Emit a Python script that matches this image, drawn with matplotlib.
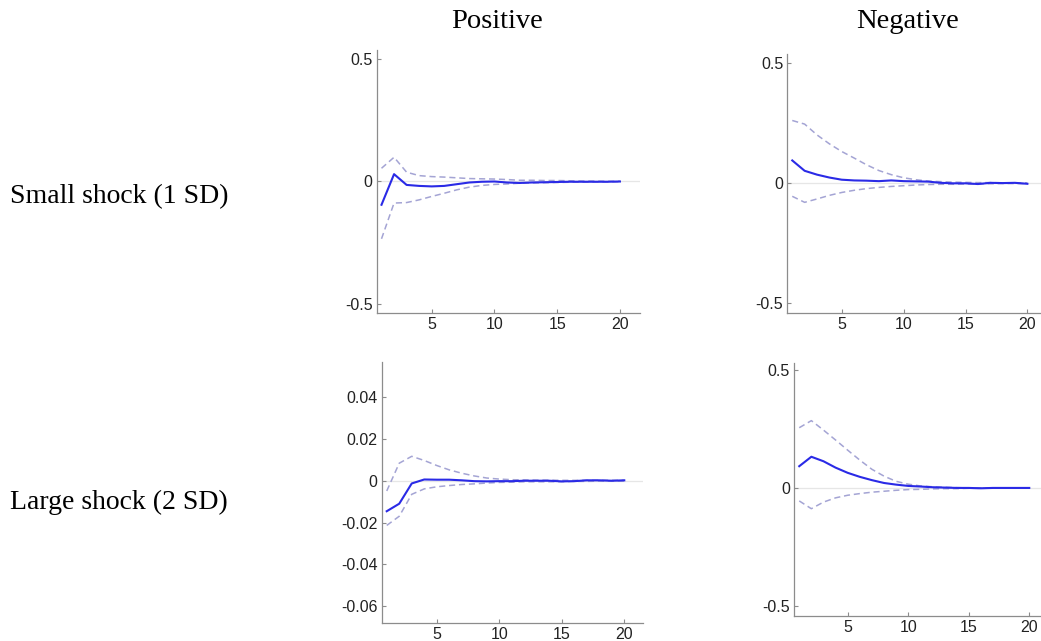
import numpy as np
import matplotlib.pyplot as plt

horizon = np.arange(1, 21)

# small shock, positive
sp_mid = [-0.095, 0.03, -0.014, -0.018, -0.02, -0.018, -0.011, -0.004, -0.001, 0.0,
          -0.004, -0.006, -0.004, -0.003, -0.002, -0.001, -0.001, -0.001, -0.001, 0.0]
sp_up = [0.054, 0.099, 0.038, 0.024, 0.02, 0.018, 0.015, 0.012, 0.011, 0.01,
         0.008, 0.005, 0.005, 0.004, 0.004, 0.003, 0.002, 0.002, 0.001, 0.001]
sp_lo = [-0.234, -0.088, -0.086, -0.075, -0.061, -0.048, -0.034, -0.023, -0.016, -0.012,
         -0.01, -0.007, -0.006, -0.005, -0.004, -0.003, -0.003, -0.002, -0.002, -0.001]

# small shock, negative
sn_mid = [0.094, 0.051, 0.035, 0.023, 0.014, 0.011, 0.01, 0.008, 0.011, 0.008,
          0.007, 0.006, 0.001, -0.001, -0.001, -0.004, 0.001, 0.0, 0.001, -0.003]
sn_up = [0.26, 0.245, 0.2, 0.163, 0.131, 0.104, 0.076, 0.052, 0.035, 0.022,
         0.014, 0.008, 0.006, 0.004, 0.003, 0.002, 0.002, 0.001, 0.001, 0.001]
sn_lo = [-0.055, -0.08, -0.066, -0.051, -0.039, -0.03, -0.023, -0.018, -0.014, -0.011,
         -0.008, -0.006, -0.005, -0.005, -0.004, -0.003, -0.003, -0.002, -0.002, -0.002]

# large shock, positive
lp_mid = [-0.0146, -0.011, -0.0013, 0.0006, 0.0005, 0.0005, 0.0002, -0.0002, -0.0003, -0.0002,
          -0.0002, 0.0, 0.0, 0.0, -0.0003, -0.0002, 0.0002, 0.0002, 0.0, 0.0002]
lp_up = [-0.0049, 0.0084, 0.0117, 0.0097, 0.0073, 0.0052, 0.0036, 0.0023, 0.0013, 0.0008,
         0.0005, 0.0004, 0.0003, 0.0003, 0.0002, 0.0002, 0.0002, 0.0002, 0.0002, 0.0002]
lp_lo = [-0.0214, -0.017, -0.0065, -0.0039, -0.0029, -0.0023, -0.0018, -0.0015, -0.0011, -0.0008,
         -0.0007, -0.0005, -0.0005, -0.0005, -0.0005, -0.0003, -0.0003, -0.0002, -0.0002, -0.0002]

# large shock, negative
ln_mid = [0.092, 0.132, 0.113, 0.086, 0.064, 0.047, 0.033, 0.021, 0.014, 0.0085,
          0.006, 0.003, 0.0015, 0.0, 0.0, -0.0015, 0.0, 0.0, 0.0, 0.0]
ln_up = [0.255, 0.285, 0.245, 0.203, 0.16, 0.118, 0.079, 0.05, 0.028, 0.016,
         0.0085, 0.005, 0.003, 0.0015, 0.0, 0.0, 0.0, 0.0, 0.0, 0.0]
ln_lo = [-0.055, -0.088, -0.06, -0.042, -0.031, -0.024, -0.018, -0.014, -0.01, -0.007,
         -0.006, -0.004, -0.003, -0.003, -0.0015, -0.0015, -0.001, -0.001, 0.0, 0.0]

col_titles = ["Positive", "Negative"]
row_titles = ["Small shock (1 SD)", "Large shock (2 SD)"]

panels = [
    # (rect, xlim, ylim, yticks, yticklabels, mid, up, lo)
    ([0.3619, 0.5117, 0.2529, 0.4103], (0.62, 21.6), (-0.537, 0.537),
     [-0.5, 0, 0.5], ["-0.5", "0", "0.5"], sp_mid, sp_up, sp_lo),
    ([0.7563, 0.5112, 0.2437, 0.4045], (0.60, 21.1), (-0.541, 0.536),
     [-0.5, 0, 0.5], ["-0.5", "0", "0.5"], sn_mid, sn_up, sn_lo),
    ([0.3667, 0.0285, 0.2510, 0.4072], (0.60, 21.5), (-0.068, 0.057),
     [-0.06, -0.04, -0.02, 0, 0.02, 0.04], ["-0.06", "-0.04", "-0.02", "0", "0.02", "0.04"],
     lp_mid, lp_up, lp_lo),
    ([0.7630, 0.0395, 0.2370, 0.3938], (0.59, 20.97), (-0.541, 0.528),
     [-0.5, 0, 0.5], ["-0.5", "0", "0.5"], ln_mid, ln_up, ln_lo),
]

fig = plt.figure(figsize=(10.41, 6.41), dpi=100)

for rect, xlim, ylim, yticks, ylabels, mid, up, lo in panels:
    ax = fig.add_axes(rect)
    ax.axhline(0, color="#e6e6e6", lw=0.9, zorder=1)
    ax.plot(horizon, up, ls=(0, (4, 2.5)), color="#a4a4d4", lw=1.1, zorder=2)
    ax.plot(horizon, lo, ls=(0, (4, 2.5)), color="#a4a4d4", lw=1.1, zorder=2)
    ax.plot(horizon, mid, color="#2a2ae6", lw=1.5, zorder=3)
    ax.set_xlim(*xlim)
    ax.set_ylim(*ylim)
    ax.set_xticks([5, 10, 15, 20])
    ax.set_yticks(yticks)
    ax.set_yticklabels(ylabels)
    for side in ["top", "right"]:
        ax.spines[side].set_visible(False)
    for side in ["left", "bottom"]:
        ax.spines[side].set_color("#8c8c8c")
        ax.spines[side].set_linewidth(0.9)
    ax.tick_params(direction="in", length=3, width=0.8, color="#8c8c8c",
                   labelsize=11.5, labelcolor="#222222", pad=3)
    for lab in ax.get_xticklabels() + ax.get_yticklabels():
        lab.set_family("Liberation Sans")

fig.text(0.477, 0.966, col_titles[0], family="Liberation Serif", fontsize=20.5,
         ha="center", va="center")
fig.text(0.872, 0.966, col_titles[1], family="Liberation Serif", fontsize=20.5,
         ha="center", va="center")
fig.text(0.010, 1 - 197 / 641, row_titles[0], family="Liberation Serif", fontsize=20,
         ha="left", va="center")
fig.text(0.010, 1 - 502 / 641, row_titles[1], family="Liberation Serif", fontsize=20,
         ha="left", va="center")

fig.savefig("out.png", dpi=100)
